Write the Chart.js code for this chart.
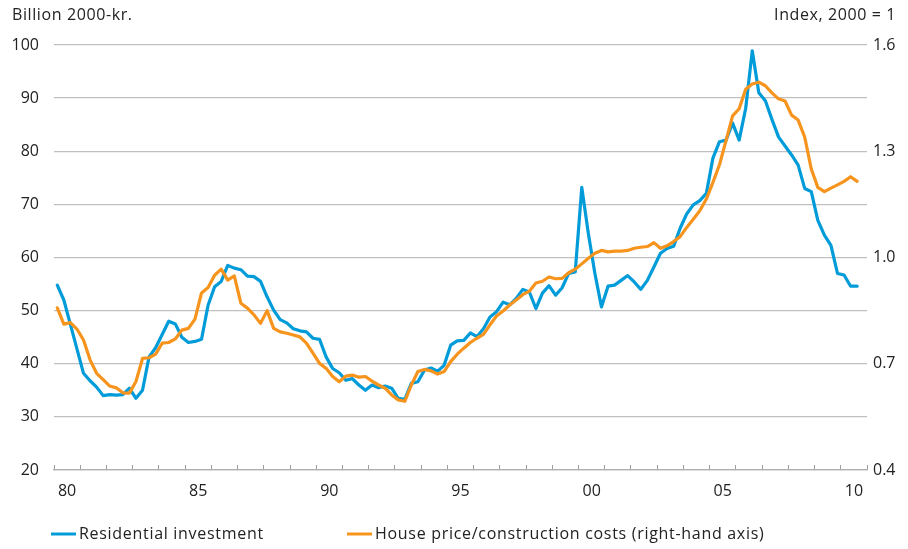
<!DOCTYPE html>
<html><head><meta charset="utf-8">
<script src="https://cdn.jsdelivr.net/npm/chart.js@4.4.1/dist/chart.umd.min.js"></script>
<style>html,body{margin:0;padding:0;background:#fff;} #wrap{width:908px;height:549px;} canvas{display:block;}</style>
</head><body><div id="wrap"><canvas id="c" width="908" height="549"></canvas></div>
<script>
const startYear = 1980;
const leftTitle = 'Billion 2000-kr.';
const rightTitle = 'Index, 2000 = 1';
const seriesNames = ['Residential investment', 'House price/construction costs (right-hand axis)'];
const yearLabelYears = [1980, 1985, 1990, 1995, 2000, 2005, 2010];
const leftTicks = [20, 30, 40, 50, 60, 70, 80, 90, 100];
const rightTicks = [0.4, 0.7, 1.0, 1.3, 1.6];

// Quarterly, 1980Q1 onwards
const residentialInvestment = [
  54.8, 52.0, 47.4, 42.8, 38.2, 36.8, 35.6, 34.0, 34.2, 34.1,
  34.2, 35.4, 33.5, 35.0, 41.3, 43.0, 45.5, 48.0, 47.5, 45.0,
  44.0, 44.2, 44.6, 51.0, 54.5, 55.5, 58.5, 58.0, 57.7, 56.5,
  56.4, 55.5, 52.6, 50.1, 48.3, 47.7, 46.6, 46.2, 46.0, 44.8,
  44.6, 41.3, 39.1, 38.3, 36.9, 37.2, 36.0, 35.0, 36.0, 35.5,
  35.8, 35.4, 33.5, 33.3, 36.3, 36.6, 38.8, 39.2, 38.6, 39.7,
  43.5, 44.3, 44.4, 45.8, 45.1, 46.6, 48.8, 49.8, 51.6, 51.1,
  52.3, 54.0, 53.5, 50.4, 53.3, 54.7, 52.9, 54.3, 57.0, 57.3,
  73.2, 64.5, 57.0, 50.7, 54.6, 54.8, 55.7, 56.6, 55.4, 54.0,
  55.7, 58.2, 60.8, 61.7, 62.1, 65.5, 68.2, 69.9, 70.7, 72.1,
  78.7, 81.8, 82.1, 85.3, 82.1, 88.1, 98.9, 91.0, 89.5, 86.0,
  82.7, 81.0, 79.3, 77.4, 73.0, 72.4, 67.0, 64.2, 62.3, 57.0,
  56.7, 54.6, 54.6
];
const housePriceToCosts = [
  0.858, 0.812, 0.816, 0.798, 0.767, 0.711, 0.673, 0.655, 0.637, 0.632,
  0.618, 0.617, 0.650, 0.715, 0.717, 0.727, 0.758, 0.760, 0.770, 0.795,
  0.800, 0.826, 0.900, 0.915, 0.950, 0.967, 0.936, 0.948, 0.871, 0.857,
  0.838, 0.814, 0.850, 0.800, 0.790, 0.786, 0.781, 0.776, 0.758, 0.730,
  0.701, 0.687, 0.664, 0.649, 0.665, 0.668, 0.662, 0.664, 0.651, 0.640,
  0.631, 0.612, 0.598, 0.594, 0.640, 0.678, 0.684, 0.680, 0.671, 0.678,
  0.706, 0.727, 0.744, 0.760, 0.772, 0.783, 0.810, 0.835, 0.849, 0.866,
  0.880, 0.895, 0.905, 0.928, 0.933, 0.945, 0.940, 0.941, 0.957, 0.967,
  0.982, 0.998, 1.012, 1.020, 1.016, 1.018, 1.018, 1.020, 1.026, 1.029,
  1.031, 1.042, 1.026, 1.033, 1.045, 1.059, 1.085, 1.108, 1.132, 1.165,
  1.212, 1.262, 1.330, 1.400, 1.420, 1.475, 1.490, 1.495, 1.485, 1.465,
  1.448, 1.442, 1.402, 1.388, 1.340, 1.250, 1.198, 1.186, 1.196, 1.205,
  1.215, 1.228, 1.215
];

const quarterLabels = residentialInvestment.map((_, i) => `${startYear + Math.floor(i / 4)}Q${i % 4 + 1}`);
const quarterToX = lbl => Number(lbl.slice(0, 4)) + (Number(lbl.slice(5)) - 0.5) / 4;

const BLUE = '#009bd9';
const ORANGE = '#f7941e';
const TEXT = '#222222';
const GRID = '#c0c0c0';
const FONT = "'Open Sans', 'DejaVu Sans', sans-serif";

Chart.defaults.font.family = FONT;
Chart.defaults.font.size = 16;
Chart.defaults.color = TEXT;

const overlay = {
  id: 'overlay',
  afterDraw(chart) {
    const ctx = chart.ctx;
    ctx.save();
    ctx.font = `16px ${FONT}`;
    try { ctx.letterSpacing = '0.6px'; } catch (e) {}
    ctx.fillStyle = TEXT;
    ctx.textBaseline = 'middle';
    ctx.textAlign = 'left';
    ctx.fillText(leftTitle, 12, 15);
    ctx.textAlign = 'right';
    ctx.fillText(rightTitle, 896, 15);
    // legend
    try { ctx.letterSpacing = '0.7px'; } catch (e) {}
    const starts = [51, 347];
    const ly = 534;
    [0, 1].forEach((di, k) => {
      const ds = chart.data.datasets[di];
      ctx.strokeStyle = ds.borderColor;
      ctx.lineWidth = 3;
      ctx.lineCap = 'butt';
      ctx.beginPath();
      ctx.moveTo(starts[k], ly);
      ctx.lineTo(starts[k] + 25, ly);
      ctx.stroke();
      ctx.fillStyle = TEXT;
      ctx.textAlign = 'left';
      ctx.fillText(ds.label, starts[k] + 28, ly);
    });
    ctx.restore();
  }
};

new Chart(document.getElementById('c'), {
  type: 'line',
  data: {
    datasets: [
      {
        label: seriesNames[0],
        data: residentialInvestment.map((v, i) => ({ x: quarterToX(quarterLabels[i]), y: v })),
        borderColor: BLUE, backgroundColor: BLUE, borderWidth: 3.2,
        pointRadius: 0, tension: 0, yAxisID: 'y', order: 2,
        borderJoinStyle: 'round', borderCapStyle: 'round'
      },
      {
        label: seriesNames[1],
        data: housePriceToCosts.map((v, i) => ({ x: quarterToX(quarterLabels[i]), y: v })),
        borderColor: ORANGE, backgroundColor: ORANGE, borderWidth: 3.2,
        pointRadius: 0, tension: 0, yAxisID: 'y1', order: 1,
        borderJoinStyle: 'round', borderCapStyle: 'round'
      }
    ]
  },
  options: {
    responsive: false,
    animation: false,
    devicePixelRatio: 1,
    layout: { padding: { top: 45, left: 0, right: 0, bottom: 0 } },
    plugins: { legend: { display: false }, tooltip: { enabled: false } },
    scales: {
      x: {
        type: 'linear', min: startYear, max: 2011,
        afterBuildTicks: s => {
          const t = [];
          for (let y = startYear; y <= 2011; y++) t.push({ value: y });
          yearLabelYears.forEach(y => t.push({ value: y + 0.5 }));
          t.sort((a, b) => a.value - b.value);
          s.ticks = t;
        },
        ticks: {
          autoSkip: false, maxRotation: 0, minRotation: 0, padding: 17, color: TEXT,
          callback: v => Number.isInteger(v) ? '' : String(Math.floor(v) % 100).padStart(2, '0')
        },
        grid: {
          drawOnChartArea: false, drawTicks: true, tickLength: -5, tickWidth: 1,
          tickColor: c => (c.tick && Number.isInteger(c.tick.value)) ? '#a0a0a0' : 'rgba(0,0,0,0)'
        },
        border: { display: true, color: '#b0b0b0', width: 1.3 },
        afterFit: s => { s.height = 79; }
      },
      y: {
        position: 'left', min: 20, max: 100,
        afterBuildTicks: s => { s.ticks = leftTicks.map(v => ({ value: v })); },
        ticks: { padding: 15, color: TEXT },
        grid: { color: GRID, lineWidth: 1.3, drawTicks: false },
        border: { display: false },
        afterFit: s => { s.width = 54; }
      },
      y1: {
        position: 'right', min: 0.4, max: 1.6,
        afterBuildTicks: s => { s.ticks = rightTicks.map(v => ({ value: v })); },
        ticks: { padding: 6, color: TEXT, callback: v => Number(v).toFixed(1) },
        grid: { drawOnChartArea: false, drawTicks: false },
        border: { display: false },
        afterFit: s => { s.width = 41; }
      }
    }
  },
  plugins: [overlay]
});
</script>
</body></html>
